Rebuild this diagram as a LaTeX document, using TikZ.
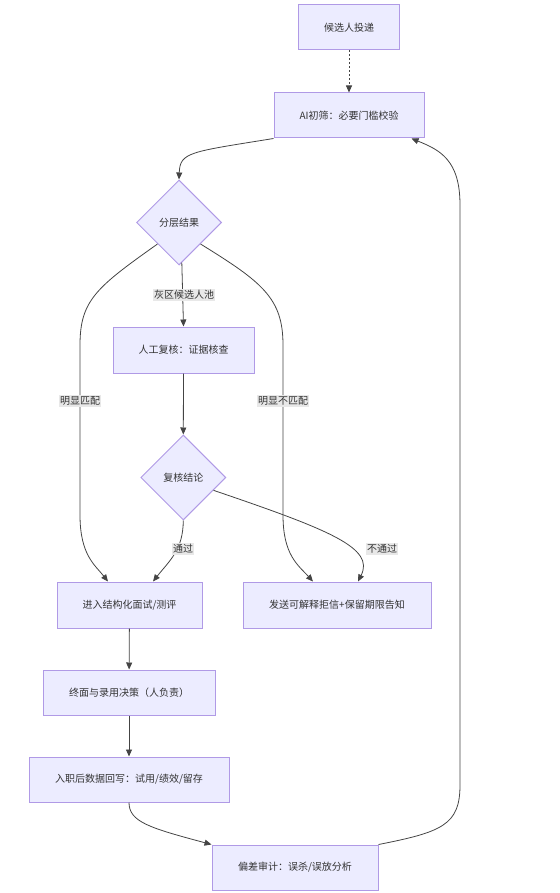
\documentclass[tikz,border=0pt]{standalone}
\usepackage{fontspec}
\setmainfont{Noto Sans CJK SC}
\usetikzlibrary{shapes.geometric,arrows.meta,calc}
\definecolor{nodefill}{HTML}{ECECFF}
\definecolor{nodeline}{HTML}{B09AE6}
\definecolor{edgecol}{HTML}{444444}
\definecolor{lblfill}{HTML}{E8E8E8}
\definecolor{txtcol}{HTML}{333333}
\begin{document}
\begin{tikzpicture}[x=1pt,y=-1pt,
  box/.style={draw=nodeline, fill=nodefill, line width=1pt, minimum height=45pt,
    inner sep=0pt, font=\fontsize{10}{12}\selectfont, text=txtcol},
  dia/.style={diamond, draw=nodeline, fill=nodefill, line width=1pt, aspect=1,
    minimum width=85pt, minimum height=85pt, inner sep=0pt,
    font=\fontsize{10}{12}\selectfont, text=txtcol},
  conn/.style={draw=edgecol, line width=0.8pt, -{Triangle[length=7pt,width=6pt]}},
  elabel/.style={fill=lblfill, inner xsep=1pt, inner ysep=1.5pt,
    font=\fontsize{10}{12}\selectfont, text=txtcol}]
\useasboundingbox (0,0) rectangle (559,893);
% nodes
\node[box, minimum width=101pt] (n1) at (349,27.5) {候选人投递};
\node[box, minimum width=150pt] (n2) at (349,115.5) {AI初筛：必要门槛校验};
\node[dia] (d1) at (179,222.5) {分层结果};
\node[box, minimum width=141pt, minimum height=46pt] (n3) at (183.5,350) {人工复核：证据核查};
\node[dia] (d2) at (183.3,477.5) {复核结论};
\node[box, minimum width=145pt, minimum height=46pt] (n4) at (129.5,605) {进入结构化面试/测评};
\node[box, minimum width=188pt, minimum height=46pt] (n5) at (337,605) {发送可解释拒信+保留期限告知};
\node[box, minimum width=172pt] (n6) at (129,692.5) {终面与录用决策（人负责）};
\node[box, minimum width=200pt] (n7) at (129,779.5) {入职后数据回写：试用/绩效/留存};
\node[box, minimum width=166pt] (n8) at (295,867.5) {偏差审计：误杀/误放分析};
% edges
\draw[conn, dash pattern=on 2pt off 2pt] (n1) -- (n2);
\draw[conn] (n2.south west) .. controls (190,152) and (180,152) .. (d1.north);
\draw[conn] (d1.-86) -- (n3.north);
\draw[conn] (d1.south west) .. controls (97,287) and (80,300) .. (80,345)
  -- (80,515) .. controls (80,555) and (95,565) .. ($(n4.north)+(-21.5,0)$);
\draw[conn] (d1.south east) .. controls (262,282) and (283,298) .. (283,345)
  -- (283,515) .. controls (283,555) and (298,565) .. ($(n5.north)+(-24,0)$);
\draw[conn] (n3.south) -- (d2.north);
\draw[conn] (d2.south) .. controls (183,550) and (170,560) .. ($(n4.north)+(23.5,0)$);
\draw[conn] (d2.-23) .. controls (330,530) and (375,548) .. ($(n5.north)+(21,0)$);
\draw[conn] (n4) -- (n6);
\draw[conn] (n6) -- (n7);
\draw[conn] (n7.south) .. controls (129,822) and (150,828) .. (n8.north west);
\draw[conn] (n8.north east) .. controls (442,832) and (460,825) .. (460,785)
  -- (460,205) .. controls (460,160) and (440,150) .. ($(n2.south east)+(-13,0)$);
% edge labels
\node[elabel] (l1) at (184,295) {灰区候选人池};
\node[elabel] (l2) at (80,401) {明显匹配};
\node[elabel] (l3) at (283,401) {明显不匹配};
\node[elabel] (l4) at (183,549) {通过};
\node[elabel] (l5) at (382,549) {不通过};
\end{tikzpicture}
\end{document}
